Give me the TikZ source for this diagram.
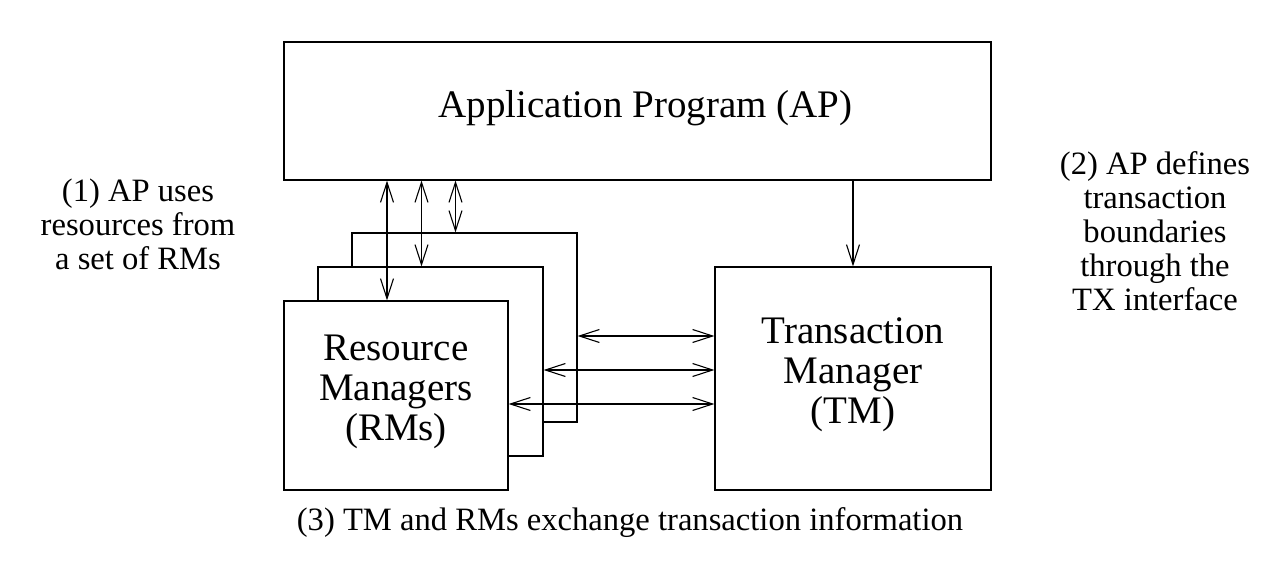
\documentclass[tikz,border=0pt]{standalone}
\usepackage{fontspec}
\setmainfont{Liberation Serif}
\usetikzlibrary{arrows.meta}

\begin{document}
\begin{tikzpicture}[x=1pt, y=-1pt,
    box/.style={draw, line width=1.2pt, fill=white, align=center, inner sep=0pt,
        font=\fontsize{39}{40}\selectfont},
    note/.style={align=center, font=\fontsize{32.6}{34}\selectfont},
    link/.style={line width=1.1pt, arrows={Straight Barb[length=20pt,width=13pt]}-{Straight Barb[length=20pt,width=13pt]}},
    down/.style={line width=1.1pt, -{Straight Barb[length=20pt,width=13pt]}}]
    \useasboundingbox (0,0) rectangle (1280,577);

    % Application program
    \node[box, minimum width=707pt, minimum height=138pt, text depth=14.5pt] (ap) at (637.5,111) {\hspace*{16pt}Application Program (AP)};

    % Stack of resource managers
    \node[box, minimum width=225pt, minimum height=189pt] (rm3) at (464.5,327.5) {};
    \node[box, minimum width=225pt, minimum height=189pt] (rm2) at (430.5,361.5) {};
    \node[box, minimum width=224pt, minimum height=189pt, text depth=16.5pt] (rm1) at (396,395.5) {Resource\\Managers\\(RMs)};

    % Transaction manager
    \node[box, minimum width=276pt, minimum height=223pt, text depth=16.5pt] (tm) at (853,378.5) {Transaction\\Manager\\(TM)};

    % AP <-> RMs
    \draw[link] ([xshift=-9pt]rm1.north |- ap.south) -- ([xshift=-9pt]rm1.north);
    \draw[link] ([xshift=-9pt]rm2.north |- ap.south) -- ([xshift=-9pt]rm2.north);
    \draw[link] ([xshift=-9pt]rm3.north |- ap.south) -- ([xshift=-9pt]rm3.north);

    % AP -> TM
    \draw[down] (ap.south -| tm.north) -- (tm.north);

    % RMs <-> TM
    \draw[link] ([yshift=-8.5pt]rm3.east) -- ([yshift=-8.5pt]rm3.east -| tm.west);
    \draw[link] ([yshift=-8.5pt]rm2.east) -- ([yshift=-8.5pt]rm2.east -| tm.west);
    \draw[link] ([yshift=-8.5pt]rm1.east) -- ([yshift=-8.5pt]rm1.east -| tm.west);

    % Notes
    \node[note] (n1) at (138,224) {(1) AP uses\\resources from\\a set of RMs};
    \node[note] (n2) at (1155,231) {(2) AP defines\\transaction\\boundaries\\through the\\TX interface};
    \node[note] (n3) at (630,523) {(3) TM and RMs exchange transaction information};
\end{tikzpicture}
\end{document}
